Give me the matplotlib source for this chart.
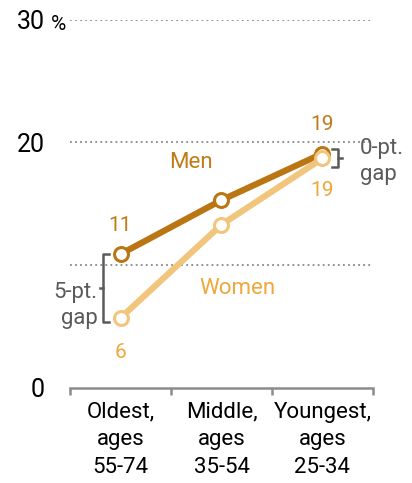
import matplotlib.pyplot as plt

plt.rcParams['font.family'] = ['Roboto', 'DejaVu Sans']

groups = ["Oldest,\nages\n55-74", "Middle,\nages\n35-54", "Youngest,\nages\n25-34"]
men = [10.9, 15.3, 19.1]
women = [5.7, 13.3, 18.7]
men_labels = ["11", "", "19"]
women_labels = ["6", "", "19"]

men_col = "#BA7612"
women_col = "#F2C57C"
men_txt = "#C07C18"
women_txt = "#EFA83A"
gray = "#5a5a5a"

fig = plt.figure(figsize=(4.12, 4.83), dpi=100)
ax = fig.add_axes([0.170, 0.197, 0.735, 0.762])
x = list(range(len(groups)))

for yv in [10, 20, 30]:
    ax.axhline(yv, color="#888888", lw=1.3, ls=(0, (1, 1.8)), zorder=1)

ax.plot(x, men, color=men_col, lw=4.5, zorder=3,
        marker="o", ms=10, mfc="white", mec=men_col, mew=2.2)
ax.plot(x, women, color=women_col, lw=4.5, zorder=4,
        marker="o", ms=10, mfc="white", mec=women_col, mew=2.2)

ax.text(x[0], men[0] + 2.3, men_labels[0], color=men_txt, fontsize=15, ha="center", va="center")
ax.text(x[2], men[2] + 2.4, men_labels[2], color=men_txt, fontsize=15, ha="center", va="center")
ax.text(x[0], women[0] - 2.8, women_labels[0], color=women_txt, fontsize=15, ha="center", va="center")
ax.text(x[2], women[2] - 2.6, women_labels[2], color=women_txt, fontsize=15, ha="center", va="center")

ax.text(0.7, 18.4, "Men", color=men_txt, fontsize=16, ha="center", va="center")
ax.text(1.16, 8.07, "Women", color=women_txt, fontsize=16, ha="center", va="center")

# 5-pt gap bracket
bx = -0.17
ax.plot([bx + 0.06, bx, bx, bx + 0.06], [10.9, 10.9, 5.4, 5.4], color=gray, lw=1.8, zorder=2, clip_on=False)
ax.plot([bx, bx - 0.035], [8.1, 8.1], color=gray, lw=1.8, clip_on=False)
ax.text(bx - 0.06, 6.7, "5-pt.\ngap", color=gray, fontsize=16, ha="right", va="center", linespacing=1.3)

# 0-pt gap bracket
bx2 = 2.155
ax.plot([bx2 - 0.06, bx2, bx2, bx2 - 0.06], [19.5, 19.5, 18.0, 18.0], color=gray, lw=1.8, clip_on=False)
ax.plot([bx2, bx2 + 0.04], [18.75, 18.75], color=gray, lw=1.8, clip_on=False)
ax.text(2.37, 18.45, "0-pt.\ngap", color=gray, fontsize=16, ha="left", va="center", linespacing=1.35)

ax.set_xlim(-0.5, 2.5)
ax.set_ylim(0, 30)
ax.set_yticks([0, 20, 30])
ax.set_yticklabels(["0", "20", "30"], fontsize=18)
for t in ax.get_yticklabels():
    t.set_verticalalignment("center_baseline")
ax.tick_params(axis="y", length=0, pad=18)
ax.text(-0.535, 29.2, "%", fontsize=15, ha="right", va="baseline")

ax.set_xticks([-0.5, 0.5, 1.5, 2.5], minor=False)
ax.set_xticklabels([])
ax.set_xticks(x, minor=True)
ax.set_xticklabels(groups, minor=True, fontsize=16, linespacing=1.42)
ax.tick_params(axis="x", which="major", length=5, width=1.8, color="#8c8c8c")
ax.tick_params(axis="x", which="minor", length=0, pad=10)

for s in ["top", "right", "left"]:
    ax.spines[s].set_visible(False)
ax.spines["bottom"].set_color("#8c8c8c")
ax.spines["bottom"].set_linewidth(1.8)

fig.savefig("out.png", dpi=100)
